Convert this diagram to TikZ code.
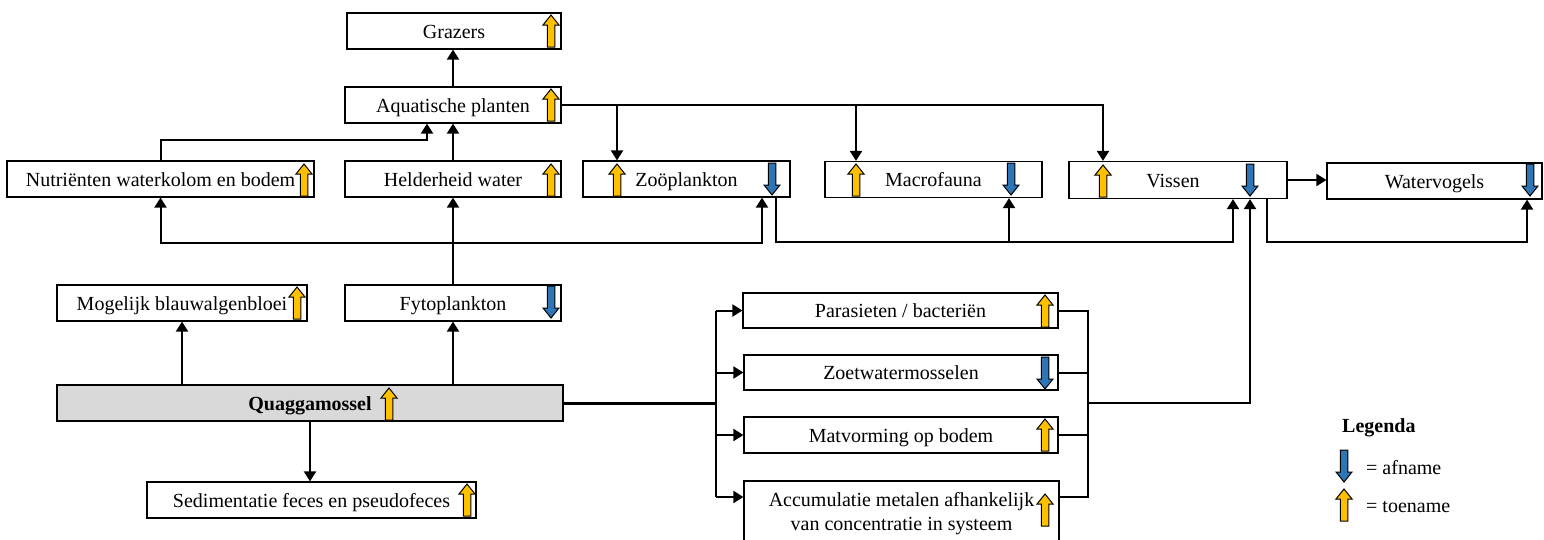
\documentclass[tikz,border=0pt]{standalone}
\usepackage{fontspec}
\setmainfont{Liberation Serif}
\usetikzlibrary{arrows.meta}
\definecolor{upyellow}{HTML}{FFC000}
\definecolor{downblue}{HTML}{2E75B6}
\definecolor{quaggray}{HTML}{D9D9D9}
\tikzset{
  box/.style={draw, line width=1.2pt, fill=white, inner sep=0pt,
    font=\fontsize{20}{24}\selectfont, text height=14.5pt, text depth=0.5pt, minimum height=36pt},
  conn/.style={line width=2pt, ->},
  plainline/.style={line width=2pt},
  uparr/.pic={\path[draw=black, line width=1pt, fill=upyellow, line join=miter]
     (-3.75,16) -- (-3.75,-6) -- (-8,-6) -- (0,-16) -- (8,-6) -- (3.75,-6) -- (3.75,16) -- cycle;},
  downarr/.pic={\path[draw=black, line width=1pt, fill=downblue, line join=miter]
     (-3.75,-16) -- (-3.75,6) -- (-8,6) -- (0,16) -- (8,6) -- (3.75,6) -- (3.75,-16) -- cycle;}
}
\begin{document}
\begin{tikzpicture}[x=1pt, y=-1pt, >={Triangle[width=12pt,length=10pt]}]
\clip (0,0) rectangle (1544,539);
\fill[white] (0,0) rectangle (1544,539);

% boxes
\node[box, minimum width=214pt] (graz) at (454,31) {Grazers};
\node[box, minimum width=216pt] (aqua) at (453,105) {Aquatische planten};
\node[box, minimum width=307pt] (nutr) at (160.5,179) {Nutriënten waterkolom en bodem};
\node[box, minimum width=216pt] (held) at (453,179) {Helderheid water};
\node[box, minimum width=207pt] (zoo) at (686.5,179) {Zoöplankton};
\node[box, minimum width=217pt] (macro) at (933.5,179.5) {Macrofauna};
\node[box, minimum width=218pt, minimum height=37pt] (viss) at (1178,180) {\hspace*{-10pt}Vissen};
\node[box, minimum width=215pt] (vogel) at (1434.5,181) {Watervogels};
\node[box, minimum width=250pt] (mog) at (182,303) {Mogelijk blauwalgenbloei};
\node[box, minimum width=216pt] (fyto) at (453,303) {Fytoplankton};
\node[box, minimum width=506pt, fill=quaggray] (quag) at (310,403) {\textbf{Quaggamossel}};
\node[box, minimum width=329pt] (sedi) at (311.5,500) {Sedimentatie feces en pseudofeces};
\node[box, minimum width=315pt, minimum height=35pt] (para) at (900.5,310.5) {Parasieten / bacteriën};
\node[box, minimum width=314pt, minimum height=35pt] (zoet) at (901,372.5) {Zoetwatermosselen};
\node[box, minimum width=314pt] (mat) at (901,435) {Matvorming op bodem};
\node[box, minimum width=315pt, minimum height=62pt, align=center, text height=37pt, text depth=1pt] (acc) at (901.5,512)
  {Accumulatie metalen afhankelijk\\van concentratie in systeem};

% legend
\node[anchor=west, inner sep=0pt, font=\bfseries\fontsize{20}{24}\selectfont] (leg) at (1342,428) {Legenda};
\node[anchor=west, inner sep=0pt, font=\fontsize{20}{24}\selectfont] (legdown) at (1366,468) {= afname};
\node[anchor=west, inner sep=0pt, font=\fontsize{20}{24}\selectfont] (legup) at (1366,507) {= toename};

% icons
\pic at (551,31) {uparr};
\pic at (551,105) {uparr};
\pic at (304,180) {uparr};
\pic at (551,180) {uparr};
\pic at (617,180) {uparr};
\pic at (772,179) {downarr};
\pic at (856,180) {uparr};
\pic at (1011,179) {downarr};
\pic at (1103,181) {uparr};
\pic at (1250,180) {downarr};
\pic at (1530,180) {downarr};
\pic at (297,303) {uparr};
\pic at (551,302) {downarr};
\pic at (389,404) {uparr};
\pic at (467,500) {uparr};
\pic at (1045,311) {uparr};
\pic at (1045,373) {downarr};
\pic at (1045,435) {uparr};
\pic at (1045,510) {uparr};
\pic at (1344,466) {downarr};
\pic at (1344,505) {uparr};

% coordinates
\coordinate (aquaL) at ([xshift=-26pt]aqua.south);
\coordinate (zooT) at ([xshift=-69.5pt]zoo.north);
\coordinate (macT) at ([xshift=-77.5pt]macro.north);
\coordinate (visT) at ([xshift=-75pt]viss.north);
\coordinate (zooB1) at ([xshift=75.5pt]zoo.south);
\coordinate (zooB2) at ([xshift=89.5pt]zoo.south);
\coordinate (lowbus) at ([yshift=-44pt]zooB2);
\coordinate (visB1) at ([xshift=55pt]viss.south);
\coordinate (macB) at ([xshift=75.5pt]macro.south);
\coordinate (visB3) at ([xshift=89pt]viss.south);
\coordinate (vogB) at ([xshift=92.5pt]vogel.south);
\coordinate (visB2) at ([xshift=72pt]viss.south);
\coordinate (split) at ([xshift=152pt]quag.east);
\coordinate (accIn) at ([yshift=15pt]acc.west);
\coordinate (accOut) at ([yshift=15pt]acc.east);
\coordinate (merge) at ([xshift=29pt]para.east);

% connectors top
\draw[conn] (aqua.north) -- (aqua.north |- graz.south);
\draw[conn] (held.north) -- (aqua.south);
\draw[conn] (nutr.north) -- ++(0,-20) -| (aquaL);
\draw[conn] (aqua.east) -| (visT);
\draw[conn] (zooT |- aqua.east) -- (zooT);
\draw[conn] (macT |- aqua.east) -- (macT);
\draw[conn] (fyto.north) -- (held.south);
\draw[conn, <->] (nutr.south) -- ++(0,45) -| (zooB1);
\draw[conn] (zooB2) -- (lowbus) -| (visB1);
\draw[conn] (macB |- lowbus) -- (macB);
\draw[conn] (viss.east) -- (viss.east -| vogel.west);
\draw[conn] (visB3) -- ++(0,43) -| (vogB);

% connectors quaggamossel
\draw[conn] (mog.south |- quag.north) -- (mog.south);
\draw[conn] (fyto.south |- quag.north) -- (fyto.south);
\draw[conn] (quag.south) -- (quag.south |- sedi.north);
\draw[line width=3pt] (quag.east) -- (split);
\draw[plainline] (split |- para.west) -- (split |- accIn);
\foreach \n in {para,zoet,mat} \draw[conn] (split |- \n.west) -- (\n.west);
\draw[conn] (split |- accIn) -- (accIn);
\draw[plainline] (para.east) -- (merge |- para.east) -- (merge |- accOut) -- (accOut);
\draw[plainline] (zoet.east) -- (merge |- zoet.east);
\draw[plainline] (mat.east) -- (merge |- mat.east);
\draw[conn] (merge |- quag.east) -| (visB2);
\end{tikzpicture}
\end{document}
